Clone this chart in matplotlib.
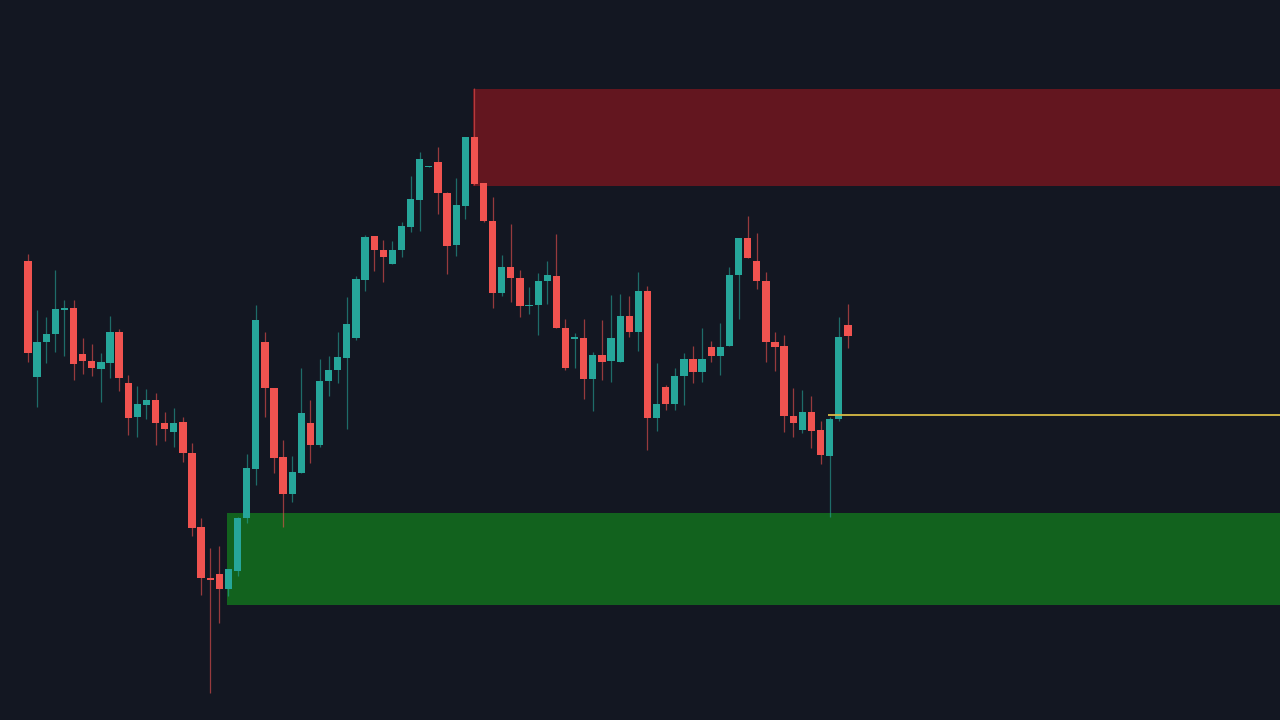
import matplotlib
matplotlib.use("Agg")
import matplotlib.pyplot as plt

# Chart levels (the chart has no axis, larger = lower on screen)
body_top = [260.7,341.7,333.7,308.7,308.3,308,354.3,361.3,362.3,332,332,383.3,404.3,400.3,400.3,422.7,422.7,422.3,453.3,527.3,
            578,574,569.3,518.3,467.7,320,342.3,387.7,457.3,472.3,412.7,423,381,370,357.3,324,279.3,236.7,236,250,
            250,226,199,159.3,165.6,162.3,193.3,205.3,137.3,137.3,183.3,221,267,267,277.7,304.8,280.7,275.3,275.7,328,
            337.4,337.7,354.7,354.7,338,316,316,291,291,404,387.3,375.7,359.3,359.3,359,347,346.7,274.7,238.3,238.3,
            261.3,281,341.7,346,416,412,412,430,419,337,325.3]
body_bottom = [353,376.7,342,333.7,309.8,364.3,360.7,368.3,368.7,362.7,378,417.7,417.3,405,423,428.7,432.3,453.3,527.7,578.3,
               580,589.3,589.3,570.7,518.3,469,388,458,494.3,494.3,472.7,444.7,444.7,381.3,370.3,357.7,338.3,280,250,257.3,
               263.7,250.3,226.7,200,167.1,193.3,245.7,245.3,206,183.7,221,292.7,292.7,278,306,306.3,305,281.3,328.3,367.7,
               338.9,378.7,378.7,361.7,361.3,361.7,331.7,331.7,418,418,404.3,404.3,376,372,371.7,355.7,355.7,346.3,275,257.7,
               281.3,342,347.3,415.7,423,429.7,430.7,455.3,456,419.3,336]
wick_top = [254,310,317,270,300,300,338,344,353,315.7,329,375,385.7,388.7,392.7,411.7,408.3,416.7,443,518,
            548,546,569,517,454,305,331.7,387.7,440,456,368.3,400,359.3,356,331.7,297,276,235,236,240,
            241,221.7,176,152.3,165.6,146.7,191.7,178.3,136.7,88.3,183.3,196.7,255,224.3,270,286.7,272.7,261,234.3,319.3,
            333.3,319.3,351.7,320,295,294.3,296,272.3,286,362.7,385,368.3,352.7,346,328.3,340.7,322.7,266.7,238.3,216,
            232.7,272.3,331.7,335,387.7,390,396,421,416.7,317.3,304.3]
wick_bottom = [362,407,363,352,356,380,374,375.7,402,378,390.7,435,436.7,419,445,440.7,447.3,462,536,595,
               692.7,623,596,576,522.7,485,417,473,526.7,501.7,472.7,463,447,396,383.3,429,340,291,270.7,282.3,
               264.3,256.7,231.7,230.7,167.1,214,274,256,219.3,185,221.7,308.3,296,301.7,317.3,314.3,335,304,328.3,370,
               367.7,398.7,411,380,382,361.7,337.3,350.7,450,431.3,410,410,405,383.3,382.3,361.7,375,346.3,319,257.7,
               289,361.7,371,431.7,437.3,432.7,448,464,517.3,421,348.3]
is_up = [0,1,1,1,1,0,0,0,1,1,0,0,1,1,0,0,1,0,0,0,
         0,0,1,1,1,1,0,0,0,1,1,0,1,1,1,1,1,1,0,0,
         1,1,1,1,1,0,0,1,1,0,0,0,1,0,0,1,1,1,0,0,
         1,0,1,0,1,1,0,1,0,1,0,1,1,0,1,0,1,1,1,0,
         0,0,0,0,0,1,0,0,1,1,0]

# Zones: (first candle position, level top, level bottom)
supply_zone = (48.9, 89, 186)
demand_zone = (21.85, 513, 605)
level_line = (87.8, 415)

BG = "#131722"
UP = "#26A69A"
DOWN = "#F05350"
SUPPLY = "#63161F"
DEMAND = "#12621E"
YELLOW = "#D8BC45"
STEP = 9.11
X_LEFT = -28 / STEP
X_RIGHT = (1280 - 28) / STEP

fig = plt.figure(figsize=(12.8, 7.2), dpi=100, facecolor=BG)
ax = fig.add_axes([0, 0, 1, 1], facecolor=BG)

for start, top, bottom, colour in [(*supply_zone, SUPPLY), (*demand_zone, DEMAND)]:
    ax.fill_between([start, X_RIGHT], top, bottom, color=colour, linewidth=0, zorder=1)

ax.plot([level_line[0], X_RIGHT], [level_line[1]] * 2, color=YELLOW, lw=1.3, zorder=4,
        solid_capstyle="butt")

xs = list(range(len(is_up)))
colours = [UP if u else DOWN for u in is_up]
ax.vlines(xs, wick_top, wick_bottom, colors=colours, linewidth=0.9, alpha=0.6, zorder=2)
heights = [b - t for t, b in zip(body_top, body_bottom)]
ax.bar(xs, heights, bottom=body_top, width=0.8, color=colours, linewidth=0, zorder=3)

ax.set_xlim(X_LEFT, X_RIGHT)
ax.set_ylim(720, 0)
ax.axis("off")
fig.savefig("out.png", dpi=100, facecolor=BG)
